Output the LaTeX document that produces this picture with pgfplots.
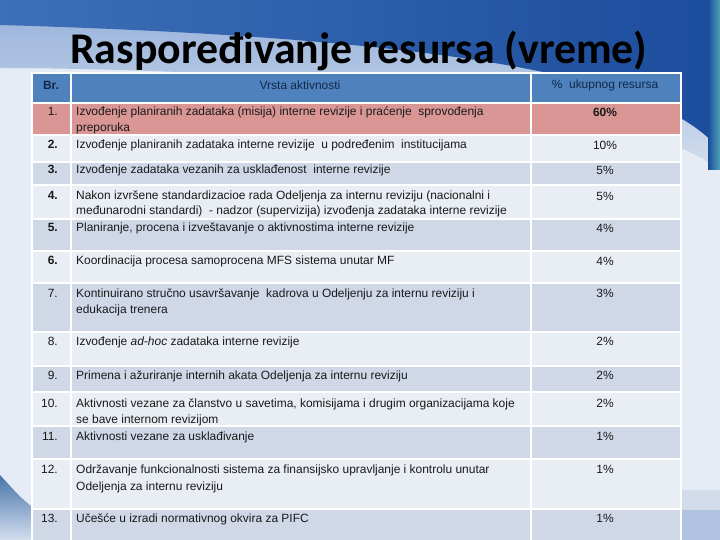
\documentclass[border=0pt]{standalone}
\usepackage{fontspec}
\setmainfont{Liberation Sans}
\newfontfamily\titlefont{Carlito}
\usepackage{pgfplots}
\pgfplotsset{compat=1.18}
\usepackage{pgfplotstable}

\definecolor{hdr}{HTML}{4F81BD}
\definecolor{pinkrow}{HTML}{D99694}
\definecolor{lightrow}{HTML}{E9EDF4}
\definecolor{darkrow}{HTML}{D0D8E8}
\definecolor{navy}{HTML}{12294A}
\definecolor{bgl}{HTML}{E6ECF5}
\definecolor{topdark}{HTML}{1C4C9C}
\definecolor{topmid}{HTML}{3D70B8}
\definecolor{band}{HTML}{9DB6DC}
\definecolor{bandlow}{HTML}{D3DEEE}
\definecolor{teal}{HTML}{4FA3B5}
\definecolor{txt}{HTML}{1A1A1A}
\definecolor{brA}{HTML}{D3DCEA}
\definecolor{brB}{HTML}{B0C4E2}

% y = vertical centre of the text line (pixels from the top), pct = share
\pgfplotstableread{
x y pct
605 145 10
605 170 5
605 196 5
605 228 4
605 261 4
605 293 3
605 341 2
605 375 2
605 403 2
605 436 1
605 469 1
605 518 1
}\pcttable

\begin{document}
\begin{tikzpicture}[
  desc/.style={anchor=base west, inner sep=0, font=\fontsize{12}{14}\selectfont, text=txt},
  num/.style={anchor=base east, inner sep=0, font=\fontsize{12}{14}\selectfont, text=txt},
  bnum/.style={num, font=\fontsize{12}{14}\selectfont\bfseries},
  head/.style={anchor=center, inner sep=0, font=\fontsize{12}{14}\selectfont, text=navy},
]
\begin{axis}[
  width=720bp, height=540bp, scale only axis,
  xmin=0, xmax=720, ymin=0, ymax=540, y dir=reverse,
  hide axis,
  /pgf/number format/assume math mode=true,
]
% slide background
\fill[bgl] (0,0) rectangle (720,540);
\shade[top color=band, bottom color=bandlow] (0,20) -- (720,20) -- (720,170)
  .. controls (640,110) and (380,70) .. (0,68) -- cycle;
\shade[left color=topmid, right color=topdark] (0,0) -- (720,0) -- (720,150)
  .. controls (670,90) and (520,40) .. (0,25) -- cycle;
\shade[left color=topdark, right color=teal] (708,0) rectangle (720,170);
\shade[top color=hdr!90!black, bottom color=bandlow] (0,475)
  .. controls (12,488) and (22,500) .. (34,508) -- (34,540) -- (0,540) -- cycle;
\fill[brA] (682,490) rectangle (720,510);
\fill[brB] (682,510) rectangle (720,540);

% title
\node[anchor=base, text=black, font=\titlefont\bfseries\fontsize{44}{50}\selectfont] at (359,64) {Raspoređivanje resursa (vreme)};

% table frame and rows
\fill[white] (31,72) rectangle (682,540);
\fill[hdr] (33,74) rectangle (680,102);
\fill[pinkrow] (33,104) rectangle (680,134);
\fill[lightrow] (33,136) rectangle (680,161);
\fill[darkrow] (33,163) rectangle (680,184);
\fill[lightrow] (33,186) rectangle (680,218);
\fill[darkrow] (33,220) rectangle (680,250);
\fill[lightrow] (33,252) rectangle (680,282);
\fill[darkrow] (33,284) rectangle (680,331);
\fill[lightrow] (33,333) rectangle (680,365);
\fill[darkrow] (33,367) rectangle (680,391);
\fill[lightrow] (33,393) rectangle (680,425);
\fill[darkrow] (33,427) rectangle (680,458);
\fill[lightrow] (33,460) rectangle (680,508);
\fill[darkrow] (33,510) rectangle (680,540);
\fill[white] (70,72) rectangle (72,540);
\fill[white] (530,72) rectangle (532,540);

% header
\node[head, font=\fontsize{12}{14}\selectfont\bfseries] at (51,85) {Br.};
\node[head] at (300,85) {Vrsta aktivnosti};
\node[head] at (605,85) {\%~~ukupnog resursa};

% row numbers
\node[num] at (58,116) {1.};
\node[bnum] at (58,149) {2.};
\node[bnum] at (58,174) {3.};
\node[bnum] at (58,200) {4.};
\node[bnum] at (58,232) {5.};
\node[bnum] at (58,265) {6.};
\node[num] at (58,297) {7.};
\node[num] at (58,345) {8.};
\node[num] at (58,379) {9.};
\node[num] at (58,407) {10.};
\node[num] at (58,440) {11.};
\node[num] at (58,473) {12.};
\node[num] at (58,522) {13.};

% activities
\node[desc] at (76,116) {Izvođenje planiranih zadataka (misija) interne revizije i praćenje~~sprovođenja};
\node[desc] at (76,132) {preporuka};
\node[desc] at (76,149) {Izvođenje planiranih zadataka interne revizije~~u podređenim~~institucijama};
\node[desc] at (76,174) {Izvođenje zadataka vezanih za usklađenost~~interne revizije};
\node[desc] at (76,200) {Nakon izvršene standardizacioe rada Odeljenja za internu reviziju (nacionalni i};
\node[desc] at (76,215) {međunarodni standardi)~~- nadzor (supervizija) izvođenja zadataka interne revizije};
\node[desc] at (76,232) {Planiranje, procena i izveštavanje o aktivnostima interne revizije};
\node[desc] at (76,265) {Koordinacija procesa samoprocena MFS sistema unutar MF};
\node[desc] at (76,297) {Kontinuirano stručno usavršavanje~~kadrova u Odeljenju za internu reviziju i};
\node[desc] at (76,313) {edukacija trenera};
\node[desc] at (76,345) {Izvođenje \textit{ad-hoc} zadataka interne revizije};
\node[desc] at (76,379) {Primena i ažuriranje internih akata Odeljenja za internu reviziju};
\node[desc] at (76,407) {Aktivnosti vezane za članstvo u savetima, komisijama i drugim organizacijama koje};
\node[desc] at (76,423) {se bave internom revizijom};
\node[desc] at (76,440) {Aktivnosti vezane za usklađivanje};
\node[desc] at (76,473) {Održavanje funkcionalnosti sistema za finansijsko upravljanje i kontrolu unutar};
\node[desc] at (76,490) {Odeljenja za internu reviziju};
\node[desc] at (76,522) {Učešće u izradi normativnog okvira za PIFC};

% shares of total resources
\addplot[draw=none, mark=none, point meta=explicit,
  nodes near coords={\pgfmathprintnumber{\pgfplotspointmeta}\%},
  every node near coord/.append style={anchor=center, inner sep=0,
    font=\fontsize{12}{14}\selectfont\bfseries, text=txt}]
  coordinates {(605,112) [60]};
\addplot[draw=none, mark=none, point meta=explicit,
  nodes near coords={\pgfmathprintnumber{\pgfplotspointmeta}\%},
  every node near coord/.append style={anchor=center, inner sep=0,
    font=\fontsize{12}{14}\selectfont, text=txt}]
  table[x=x, y=y, meta=pct] {\pcttable};
\end{axis}
\end{tikzpicture}
\end{document}
